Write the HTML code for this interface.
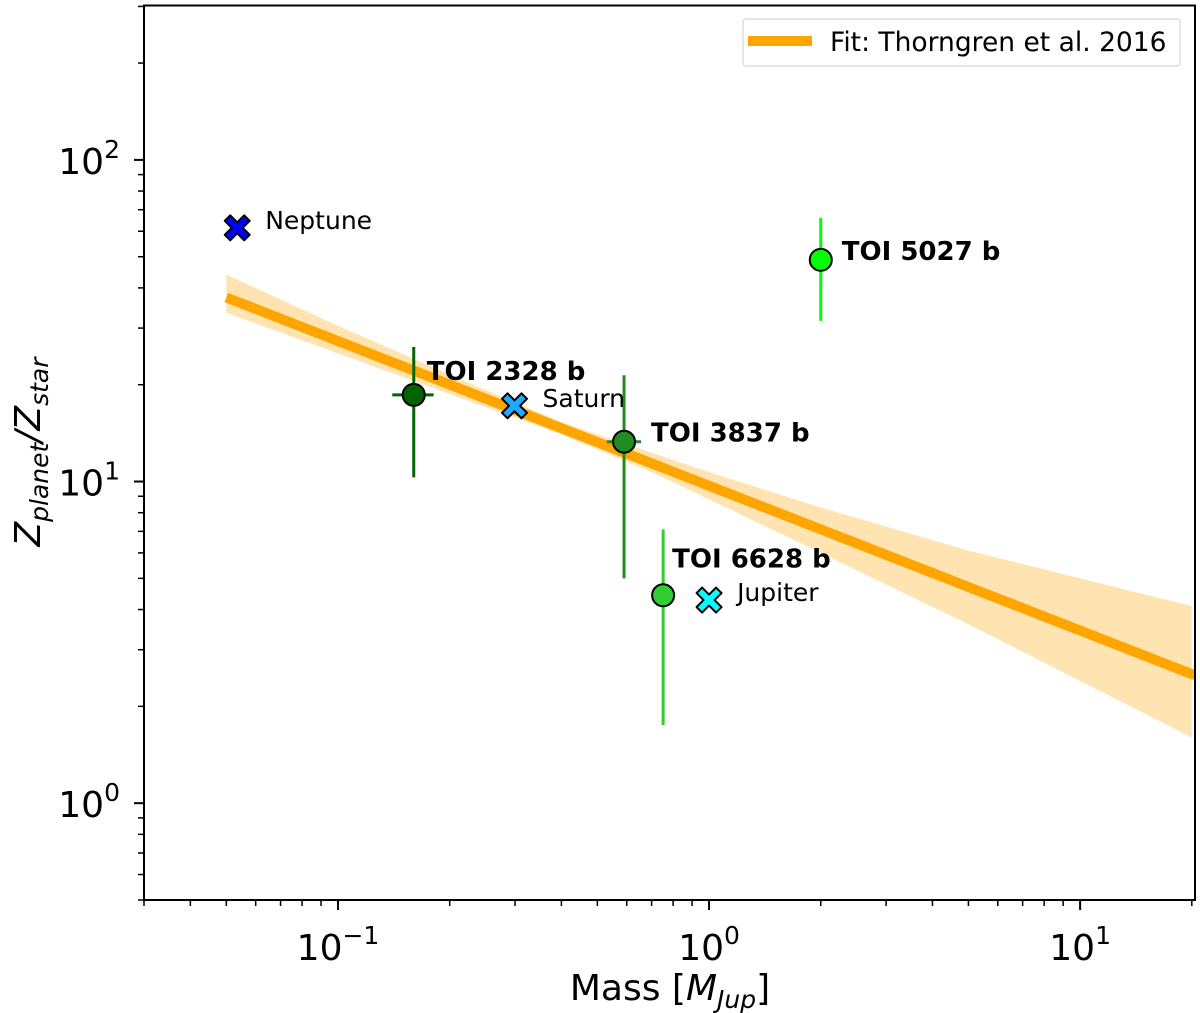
<!DOCTYPE html>
<html><head><meta charset="utf-8"><style>
html,body{margin:0;padding:0;background:#fff;}
svg{display:block;font-family:"DejaVu Sans","Liberation Sans",sans-serif;}
</style></head><body>
<svg id="chart" width="1200" height="1013" xmlns="http://www.w3.org/2000/svg"></svg>
<script>
const xTickVals = [0.1, 1, 10];
const xTickExp = ["−1", "0", "1"];
const yTickVals = [1, 10, 100];
const yTickExp = ["0", "1", "2"];
const fitCoef = 9.7;
const fitExp = -0.45;
const bandMass = [0.05, 0.1, 0.2, 0.4, 0.7, 1, 2, 5, 10, 20];
const bandHi = [44, 30.5, 21.5, 15.3, 12.3, 10.7, 8.3, 6.1, 5.0, 4.1];
const bandLo = [33.5, 25, 18.7, 14.0, 10.7, 8.8, 6.0, 3.6, 2.4, 1.6];
const solarNames = ["Neptune", "Saturn", "Jupiter"];
const solarMass = [0.0535, 0.299, 1.0];
const solarZ = [61.5, 17.2, 4.28];
const solarColors = ["#0000ff", "#1eaaff", "#00ffff"];
const toiNames = ["TOI 2328 b", "TOI 3837 b", "TOI 6628 b", "TOI 5027 b"];
const toiMass = [0.16, 0.59, 0.752, 2.0];
const toiMassLo = [0.14, 0.53, 0.72, 2.0];
const toiMassHi = [0.181, 0.656, 0.78, 2.0];
const toiZ = [18.6, 13.3, 4.43, 48.9];
const toiZLo = [10.3, 5.0, 1.75, 31.6];
const toiZHi = [26.2, 21.4, 7.1, 66];
const toiColors = ["#006400", "#228b22", "#32cd32", "#00ff00"];
const toiLabelDx = [13, 27, 9, 21];
const toiLabelDy = [-15, 0, -28, 0];

const L=144, R=1195, T=5.5, B=900;
const xMin=Math.log10(0.03), xMax=Math.log10(20.4);
const yMin=Math.log10(0.5), yMax=Math.log10(302);
const X=v=>L+(Math.log10(v)-xMin)/(xMax-xMin)*(R-L);
const Y=v=>B-(Math.log10(v)-yMin)/(yMax-yMin)*(B-T);
const svg=document.getElementById('chart');
const NS='http://www.w3.org/2000/svg';
function mk(tag,attrs,parent){const e=document.createElementNS(NS,tag);for(const k in attrs)e.setAttribute(k,attrs[k]);(parent||svg).appendChild(e);return e;}

const defs=mk('defs',{});
const cp=mk('clipPath',{id:'clip'},defs);
mk('rect',{x:L,y:T,width:R-L,height:B-T},cp);

const bandPts=bandMass.map((m,i)=>X(m)+','+Y(bandHi[i])).concat(bandMass.slice().reverse().map((m,i)=>X(m)+','+Y(bandLo[bandMass.length-1-i])));
const band=mk('polygon',{points:bandPts.join(' '),fill:'#ffa500','fill-opacity':'0.3','clip-path':'url(#clip)'});


let fp=[];for(let i=0;i<=60;i++){const m=Math.pow(10,Math.log10(0.05)+i/60*(Math.log10(20.4)-Math.log10(0.05)));fp.push(X(m)+','+Y(fitCoef*Math.pow(m,fitExp)));}
const fit=mk('polyline',{points:fp.join(' '),fill:'none',stroke:'#ffa500','stroke-width':'10','clip-path':'url(#clip)'});



const frame=mk('rect',{x:L,y:T,width:R-L,height:B-T,fill:'none',stroke:'#000','stroke-width':'2'});



for(let d=-2;d<=1;d++){for(let k=1;k<10;k++){const v=k*Math.pow(10,d);if(v<0.03||v>20.4)continue;const x=X(v);mk('line',{x1:x,x2:x,y1:B,y2:B+(k==1?10:6),stroke:'#000','stroke-width':k==1?2:1.5});}}
xTickVals.forEach((v,i)=>{const t=mk('text',{x:X(v),y:B+60,'font-size':'36','text-anchor':'middle'});t.innerHTML='10<tspan dy="-16" font-size="25">'+xTickExp[i]+'</tspan>';

});
for(let d=-1;d<=2;d++){for(let k=1;k<10;k++){const v=k*Math.pow(10,d);if(v<0.5||v>302)continue;const y=Y(v);mk('line',{x1:L,x2:L-(k==1?10:6),y1:y,y2:y,stroke:'#000','stroke-width':k==1?2:1.5});}}
yTickVals.forEach((v,i)=>{const t=mk('text',{x:120,y:Y(v)+14,'font-size':'36','text-anchor':'end'});t.innerHTML='10<tspan dy="-16" font-size="25">'+yTickExp[i]+'</tspan>';

});

const xl=mk('text',{x:670,y:1000,'font-size':'36','text-anchor':'middle'});
xl.innerHTML='Mass [<tspan font-style="italic">M</tspan><tspan font-style="italic" font-size="25" dy="8">Jup</tspan><tspan dy="-8">]</tspan>';


const yl=mk('text',{x:0,y:0,'font-size':'36','text-anchor':'middle',transform:'translate(40,452) rotate(-90)'});
yl.innerHTML='<tspan font-style="italic">Z</tspan><tspan font-style="italic" font-size="25" dy="8">planet</tspan><tspan dy="-8" font-style="italic">/Z</tspan><tspan font-style="italic" font-size="25" dy="8">star</tspan>';



toiNames.forEach((n,i)=>{
  const g=mk('g',{});
  
  
  const x=X(toiMass[i]),y=Y(toiZ[i]);
  mk('line',{x1:x,x2:x,y1:Y(toiZLo[i]),y2:Y(toiZHi[i]),stroke:toiColors[i],'stroke-width':3},g);
  mk('line',{x1:X(toiMassLo[i]),x2:X(toiMassHi[i]),y1:y,y2:y,stroke:toiColors[i],'stroke-width':3},g);
  mk('circle',{cx:x,cy:y,r:11,fill:toiColors[i],stroke:'#000','stroke-width':2},g);
  const t=mk('text',{x:x+toiLabelDx[i],y:y+toiLabelDy[i],'font-size':'26','font-weight':'bold'},g);t.textContent=n;
});
solarNames.forEach((n,i)=>{
  const g=mk('g',{});
  
  
  const x=X(solarMass[i]),y=Y(solarZ[i]);
  const s=5.5,a=12.5;
  const p=[[-a,-a+s],[-a+s,-a],[0,-s],[a-s,-a],[a,-a+s],[s,0],[a,a-s],[a-s,a],[0,s],[-a+s,a],[-a,a-s],[-s,0]].map(q=>(x+q[0])+','+(y+q[1])).join(' ');
  mk('polygon',{points:p,fill:solarColors[i],stroke:'#000','stroke-width':2,'stroke-linejoin':'round'},g);
  const t=mk('text',{x:x+28,y:y+1,'font-size':'25'},g);t.textContent=n;
});

const lg=mk('g',{});


mk('rect',{x:743,y:19,width:437,height:47,rx:3,fill:'#fff',stroke:'#ddd','stroke-width':1.5},lg);
mk('line',{x1:748,x2:812,y1:41,y2:41,stroke:'#ffa500','stroke-width':10},lg);
const lt=mk('text',{x:830,y:51,'font-size':'26.5'},lg);lt.textContent='Fit: Thorngren et al. 2016';
</script>
</body></html>
